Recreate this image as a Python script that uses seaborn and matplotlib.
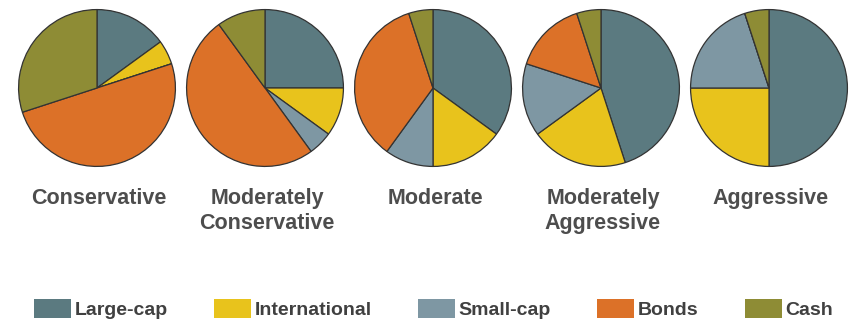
import matplotlib
matplotlib.use('Agg')
import matplotlib.pyplot as plt
import matplotlib.patches as mpatches
import seaborn as sns

# %% Data

portfolios = ['Conservative', 'Moderately\nConservative', 'Moderate',
              'Moderately\nAggressive', 'Aggressive']
assets = ['Large-cap', 'International', 'Small-cap', 'Bonds', 'Cash']

large_cap = [15, 25, 35, 45, 50]
international = [5, 10, 15, 20, 25]
small_cap = [0, 5, 10, 15, 20]
bonds = [50, 50, 35, 15, 0]
cash = [30, 10, 5, 5, 5]

colors = ['#5b7a80', '#e8c31c', '#7e97a3', '#dc7128', '#8e8c35']

# %% Plot

sns.set_theme(style='white')
plt.rcParams['font.family'] = ['Liberation Sans', 'DejaVu Sans']

W, H = 855, 326
fig = plt.figure(figsize=(W / 100, H / 100), dpi=100)
fig.patch.set_facecolor('white')

for i, name in enumerate(portfolios):
    cx = 97 + i * 168
    cy = 88
    ax = fig.add_axes([(cx - 80) / W, (H - cy - 80) / H, 160 / W, 160 / H])
    vals = [large_cap[i], international[i], small_cap[i], bonds[i], cash[i]]
    ax.pie(vals, colors=colors, startangle=90, counterclock=False,
           wedgeprops=dict(edgecolor='#333333', linewidth=0.9))
    ax.set_xlim(-1.02, 1.02)
    ax.set_ylim(-1.02, 1.02)
    ax.set_aspect('equal')
    ax.axis('off')
    fig.text((cx + 2) / W, 1 - 188 / H, name, ha='center', va='top',
             fontsize=15.5, fontweight='bold', color='#4d4d4d',
             linespacing=1.22)

handles = [mpatches.Patch(facecolor=c, edgecolor='none', label=a)
           for a, c in zip(assets, colors)]
fig.legend(handles=handles, loc='center', bbox_to_anchor=(433.5 / W, 1 - 309 / H),
           ncol=5, frameon=False, handlelength=1.9,
           handleheight=1.13, handletextpad=0.2, columnspacing=2.37,
           prop=dict(weight='bold', size=14))
for t in fig.legends[0].get_texts():
    t.set_color('#404040')

fig.savefig('out.png', dpi=100, facecolor='white')
